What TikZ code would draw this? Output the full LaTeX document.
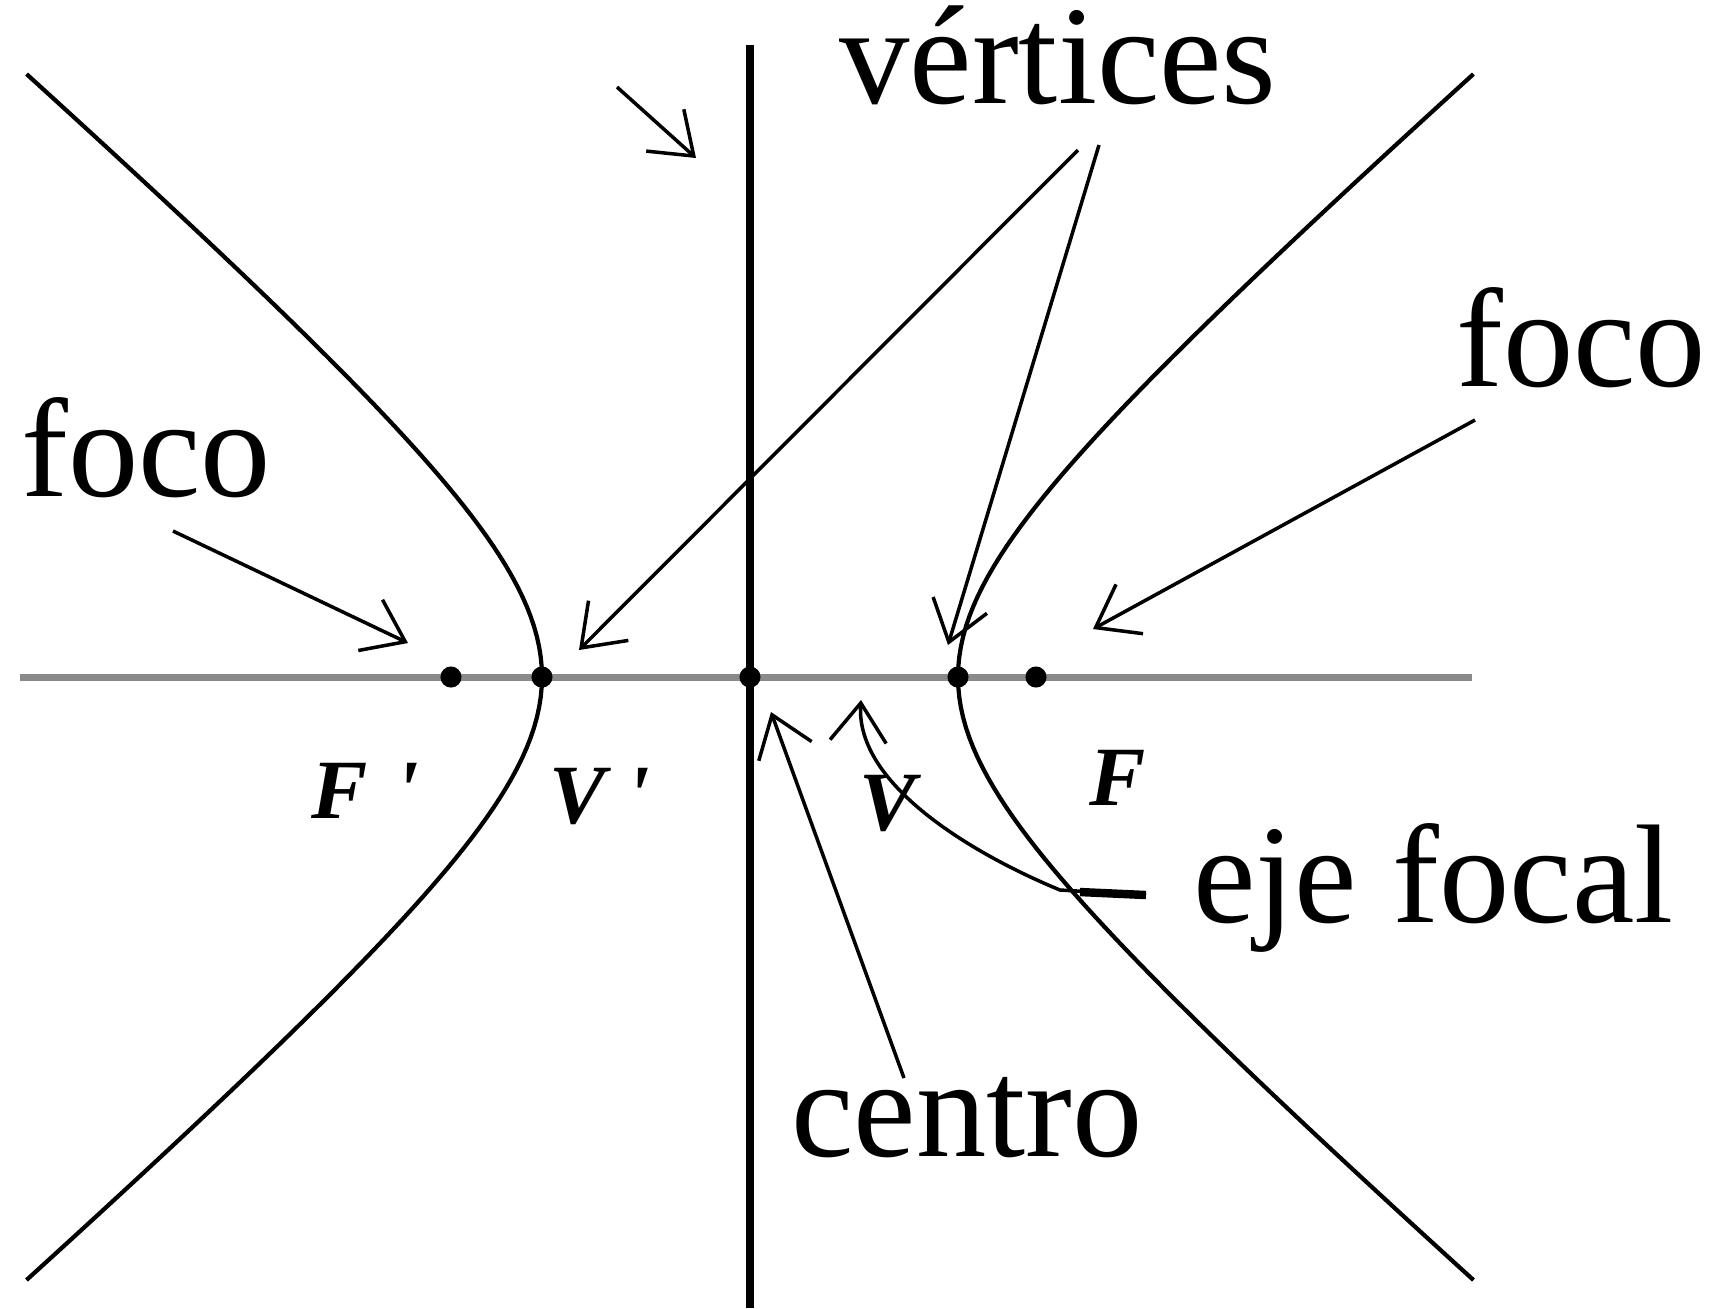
\documentclass[tikz,border=0pt]{standalone}
\usepackage{fontspec}
\setmainfont{Liberation Serif}
\usepackage{tikz}
\usetikzlibrary{arrows.meta}
\definecolor{axisgray}{HTML}{8A8A8A}
\tikzset{
  ar/.style={-{Straight Barb[length=5.5pt,width=8pt]},line width=0.5pt},
  curva/.style={line width=0.6pt},
  dot/.style={circle,fill,inner sep=0pt,minimum size=3pt},
  lbl/.style={font=\fontsize{20}{24}\selectfont,inner sep=0pt,anchor=base west},
  pt/.style={font=\fontsize{12}{14}\selectfont\bfseries\itshape,inner sep=0pt,anchor=base west}
}
\begin{document}
\begin{tikzpicture}[x=0.5cm,y=0.5cm]
\useasboundingbox (-7.50,-6.31) rectangle (9.59,6.77);
% ejes
\draw[line width=1pt,axisgray] (-7.30,0) -- (7.22,0);
\draw[line width=1.15pt] (0,-6.31) -- (0,6.32);
% ramas
\draw[curva] plot[domain=-6.03:6.03,samples=121] ({2.08*sqrt(1+(\x/1.81)^2)},\x);
\draw[curva] plot[domain=-6.03:6.03,samples=121] ({-2.08*sqrt(1+(\x/1.81)^2)},\x);
% puntos
\node[dot] (Fp) at (-2.99,0) {};
\node[dot] (Vp) at (-2.08,0) {};
\node[dot] (O) at (0,0) {};
\node[dot] (V) at (2.08,0) {};
\node[dot] (F) at (2.86,0) {};
\node[pt] (lFp) at (-4.40,-1.41) {F\hspace{4pt}\textquotesingle};
\node[pt] (lVp) at (-2.02,-1.46) {V\hspace{3pt}\textquotesingle};
\node[pt] (lV) at (1.08,-1.53) {V};
\node[pt] (lF) at (3.38,-1.28) {F};
% textos
\node[lbl] (focoL) at (-7.30,1.81) {foco};
\node[lbl] (vert) at (0.88,5.74) {vértices};
\node[lbl] (focoR) at (7.05,2.91) {foco};
\node[lbl] (eje) at (4.42,-2.45) {eje focal};
\node[lbl] (centro) at (0.40,-4.79) {centro};
% flechas
\coordinate (aFL) at (-5.77,1.46); \coordinate (tFL) at (-3.42,0.34);
\coordinate (aV1) at (3.28,5.27);  \coordinate (tVp) at (-1.71,0.27);
\coordinate (aV2) at (3.49,5.32);  \coordinate (tV) at (1.98,0.32);
\coordinate (aFR) at (7.25,2.57);  \coordinate (tFR) at (3.43,0.48);
\coordinate (aC) at (1.54,-4.01);  \coordinate (tC) at (0.21,-0.35);
\coordinate (aE) at (3.96,-2.18);  \coordinate (tE) at (1.11,-0.23);
\coordinate (aT) at (-1.33,5.90);  \coordinate (tT) at (-0.54,5.19);
\draw[ar] (aFL) -- (tFL);
\draw[ar] (aV1) -- (tVp);
\draw[ar] (aV2) -- (tV);
\draw[ar] (aFR) -- (tFR);
\draw[ar] (aC) -- (tC);
\draw[line width=1.2pt] (aE) -- (3.30,-2.15);
\draw[ar] (aE) -- (3.10,-2.13) .. controls (2.3,-1.8) and (1.05,-1.1) .. (tE);
\draw[ar] (aT) -- (tT);
\end{tikzpicture}
\end{document}
